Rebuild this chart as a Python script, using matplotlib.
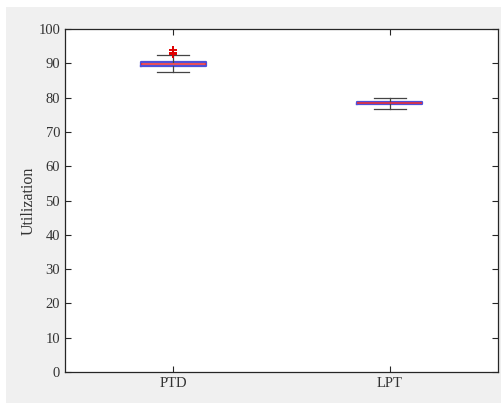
import numpy as np
import matplotlib.pyplot as plt
from matplotlib.patches import Rectangle

plt.rcParams['font.family'] = ['Liberation Serif', 'DejaVu Serif']

# box statistics
labels = ['PTD', 'LPT']
q1 = [89.2, 78.2]
med = [89.8, 78.5]
q3 = [90.4, 78.8]
whislo = [87.4, 76.8]
whishi = [92.4, 80.0]
outliers = [[92.7, 92.9, 93.1, 93.9], []]

stats = []
for i in range(len(labels)):
    stats.append(dict(label=labels[i], q1=q1[i], med=med[i], q3=q3[i],
                      whislo=whislo[i], whishi=whishi[i], fliers=outliers[i]))

fig = plt.figure(figsize=(5.02, 4.03), dpi=100)
fig.patches.append(Rectangle((6 / 502, 0), 1, 1 - 7 / 403, transform=fig.transFigure,
                             facecolor='#f0f0f0', edgecolor='none', zorder=-10))
ax = fig.add_axes([65 / 502, 1 - 372 / 403, 433 / 502, 343 / 403])

ax.bxp(stats, positions=[1, 2], widths=0.3, showfliers=True,
       boxprops=dict(color='#5050d8', linewidth=1.6),
       medianprops=dict(color='#e8303a', linewidth=1.2),
       whiskerprops=dict(color='#444444', linewidth=0.9),
       capprops=dict(color='#444444', linewidth=0.9),
       capwidths=0.15,
       flierprops=dict(marker='+', markeredgecolor='#e00000', markersize=6, markeredgewidth=1.4))

ax.set_xlim(0.5, 2.5)
ax.set_ylim(0, 100)
ax.set_yticks(np.arange(0, 101, 10))
ax.set_xticks([1, 2])
ax.set_xticklabels(labels)
ax.tick_params(direction='in', top=True, right=True, length=4, width=0.8,
               labelsize=10.5, colors='#262626', labelcolor='#333333')
for s in ax.spines.values():
    s.set_color('#262626')
    s.set_linewidth(0.9)
ax.set_ylabel('Utilization', fontsize=11.5, color='#333333', labelpad=1)
ax.set_facecolor('white')

fig.savefig('out.png', dpi=100)
